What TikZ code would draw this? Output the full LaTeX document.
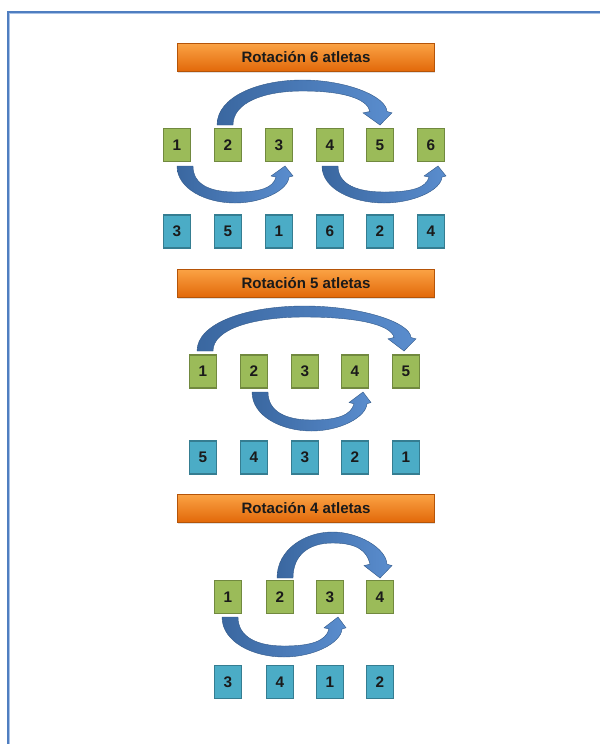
\documentclass[tikz,border=0pt]{standalone}
\usepackage{fontspec}
\setmainfont{Liberation Sans}
\usetikzlibrary{shadows}
\definecolor{gfill}{HTML}{9BBB59}
\definecolor{gline}{HTML}{71893F}
\definecolor{bfill}{HTML}{4BACC6}
\definecolor{bline}{HTML}{357D91}
\definecolor{otop}{HTML}{FBA345}
\definecolor{obot}{HTML}{E2690A}
\definecolor{arrdark}{HTML}{3A67A0}
\definecolor{arrlight}{HTML}{5A8DCE}
\definecolor{frameblue}{HTML}{4F7EC0}
\definecolor{framelight}{HTML}{A9C2E6}
\definecolor{txt}{HTML}{1A1A1A}
\tikzset{
  gbox/.style={draw=gline, fill=gfill, line width=0.8pt, minimum width=20.25pt, minimum height=24.75pt, inner sep=0pt, font=\fontsize{11.5}{13}\selectfont\bfseries, text=txt},
  bbox/.style={draw=bline, fill=bfill, line width=0.8pt, minimum width=20.25pt, minimum height=24.75pt, inner sep=0pt, font=\fontsize{11.5}{13}\selectfont\bfseries, text=txt},
  titlebar/.style={top color=otop, bottom color=obot, draw=obot!80!black, line width=0.3pt, minimum width=192.75pt, minimum height=21pt, inner sep=0pt, font=\fontsize{11.3}{13}\selectfont\bfseries, text=txt, drop shadow={opacity=0.25, shadow xshift=0.6pt, shadow yshift=-1.2pt}},
  arrowfill/.style={left color=arrdark, right color=arrlight, draw=arrdark!85!black, line width=0.3pt},
  frameline/.style={draw=frameblue, line width=1.6pt}
}
% #1 tail x, #2 tip x, #3 base y, #4 height, #5 sign (1 = over, -1 = under),
% #6 left wing offset, #7 right wing offset, #8 band left offset, #9 band right offset
\newcommand\carrow[9]{%
\shade[arrowfill]
 ({#1-8},{#3})
 .. controls ({#1-8},{#3-(#5)*0.62*#4}) and ({#1+0.42*((#2-#1)/2)},{#3-(#5)*#4}) .. ({(#1+#2)/2},{#3-(#5)*#4})
 .. controls ({(#1+#2)/2+0.55*((#2-#1)/2)},{#3-(#5)*#4}) and ({#2+#9-1},{#3-(#5)*0.65*#4}) .. ({#2+#9},{#3-(#5)*0.3*#4})
 -- ({#2+#7},{#3-(#5)*0.27*#4})
 -- ({#2},{#3})
 -- ({#2-#6},{#3-(#5)*0.27*#4})
 -- ({#2-#8},{#3-(#5)*0.3*#4})
 .. controls ({#2-#8-3},{#3-(#5)*0.6*#4}) and ({(#1+#2)/2+0.5*((#2-#1)/2)},{#3-(#5)*(#4-11)}) .. ({(#1+#2)/2},{#3-(#5)*(#4-11)})
 .. controls ({(#1+#2)/2-0.5*((#2-#1)/2)},{#3-(#5)*(#4-11)}) and ({#1+8},{#3-(#5)*0.5*#4}) .. ({#1+8},{#3})
 -- cycle;}
\begin{document}
\begin{tikzpicture}[x=0.75pt,y=-0.75pt]
\fill[white] (0,0) rectangle (600,744);
\useasboundingbox (0,0) rectangle (600,744);
% frame
\draw[frameline] (8,744) -- (8,12) -- (600,12);
\draw[draw=framelight, line width=0.5pt] (9.3,744) -- (9.3,13.3) -- (600,13.3);

% ---------- Section 1 ----------
\node[titlebar] (t1) at (306,57) {Rotación 6 atletas};
\foreach \n/\x in {1/177,2/228,3/279,4/330,5/380,6/431}
  \node[gbox] (g1\n) at (\x,145) {\n};
\foreach \i/\n/\x in {1/3/177,2/5/228,3/1/279,4/6/330,5/2/380,6/4/431}
  \node[bbox] (b1\i) at (\x,231.5) {\n};
\carrow{225}{380}{125}{45}{1}{17}{12}{10}{7}
\carrow{185}{285}{166}{37}{-1}{14}{8}{9}{4}
\carrow{330}{438}{166}{37}{-1}{14}{8}{9}{4}

% ---------- Section 2 ----------
\node[titlebar] (t2) at (306,283) {Rotación 5 atletas};
\foreach \n/\x in {1/203,2/254,3/305,4/355,5/406}
  \node[gbox] (g2\n) at (\x,371.5) {\n};
\foreach \i/\n/\x in {1/5/203,2/4/254,3/3/305,4/2/355,5/1/406}
  \node[bbox] (b2\i) at (\x,457.5) {\n};
\carrow{205}{404}{351}{45}{1}{16}{12}{10}{7}
\carrow{260}{363}{392}{39}{-1}{14}{8}{9}{4}

% ---------- Section 3 ----------
\node[titlebar] (t3) at (306,508) {Rotación 4 atletas};
\foreach \n/\x in {1/228,2/280,3/330,4/380}
  \node[gbox] (g3\n) at (\x,597) {\n};
\foreach \i/\n/\x in {1/3/228,2/4/280,3/1/330,4/2/380}
  \node[bbox] (b3\i) at (\x,682) {\n};
\carrow{285}{380}{578}{46}{1}{16}{12}{10}{7}
\carrow{230}{338}{617}{40}{-1}{14}{8}{9}{4}
\end{tikzpicture}
\end{document}
